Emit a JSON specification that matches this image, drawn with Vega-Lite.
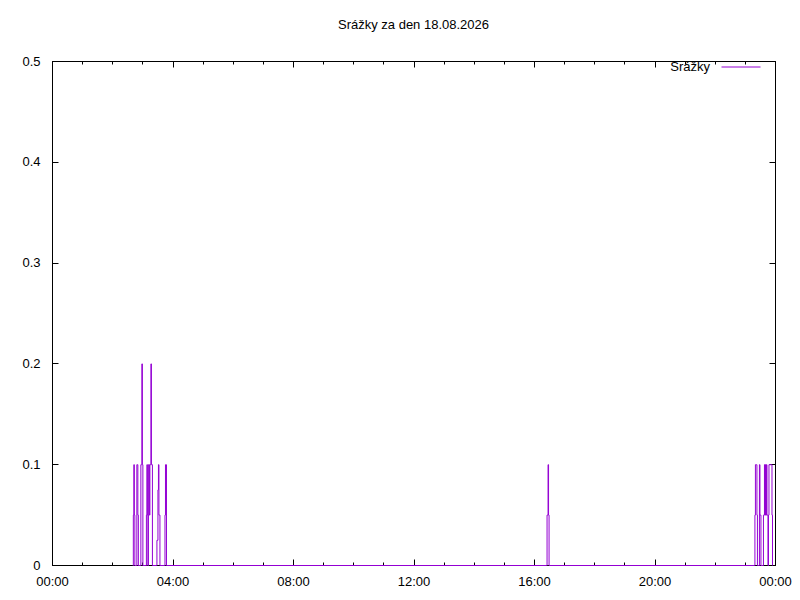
{
  "$schema": "https://vega.github.io/schema/vega-lite/v6.json",
  "width": 723,
  "height": 504,
  "autosize": "none",
  "padding": {"left": 52, "top": 61, "right": 25, "bottom": 35},
  "background": "white",
  "config": {
    "view": {"stroke": "black", "strokeWidth": 1},
    "font": "Liberation Sans",
    "axis": {"labelFont": "Liberation Sans", "labelFontSize": 13, "labelColor": "black", "tickColor": "black", "domainColor": "black", "grid": false, "zindex": 1, "labelFlush": false, "labelOverlap": false},
    "legend": {"labelFont": "Liberation Sans"}
  },
  "title": {"text": "Srážky za den 18.08.2026", "font": "Liberation Sans", "fontSize": 13, "fontWeight": "normal", "color": "black", "offset": 15, "anchor": "middle"},
  "data": {"values": [
    {"t": "2026-08-18T02:41", "v": 0},
    {"t": "2026-08-18T02:42", "v": 0.05},
    {"t": "2026-08-18T02:43", "v": 0.1},
    {"t": "2026-08-18T02:44", "v": 0.05},
    {"t": "2026-08-18T02:45", "v": 0},
    {"t": "2026-08-18T02:48", "v": 0},
    {"t": "2026-08-18T02:49", "v": 0.1},
    {"t": "2026-08-18T02:50", "v": 0.1},
    {"t": "2026-08-18T02:51", "v": 0.05},
    {"t": "2026-08-18T02:52", "v": 0},
    {"t": "2026-08-18T02:56", "v": 0},
    {"t": "2026-08-18T02:57", "v": 0.1},
    {"t": "2026-08-18T02:58", "v": 0.1},
    {"t": "2026-08-18T02:59", "v": 0.2},
    {"t": "2026-08-18T03:00", "v": 0.1},
    {"t": "2026-08-18T03:01", "v": 0},
    {"t": "2026-08-18T03:07", "v": 0},
    {"t": "2026-08-18T03:08", "v": 0.05},
    {"t": "2026-08-18T03:09", "v": 0.1},
    {"t": "2026-08-18T03:10", "v": 0.05},
    {"t": "2026-08-18T03:11", "v": 0},
    {"t": "2026-08-18T03:12", "v": 0.1},
    {"t": "2026-08-18T03:13", "v": 0.1},
    {"t": "2026-08-18T03:14", "v": 0.05},
    {"t": "2026-08-18T03:15", "v": 0.1},
    {"t": "2026-08-18T03:16", "v": 0.1},
    {"t": "2026-08-18T03:17", "v": 0.2},
    {"t": "2026-08-18T03:18", "v": 0.1},
    {"t": "2026-08-18T03:19", "v": 0.1},
    {"t": "2026-08-18T03:20", "v": 0},
    {"t": "2026-08-18T03:28", "v": 0},
    {"t": "2026-08-18T03:29", "v": 0.025},
    {"t": "2026-08-18T03:31", "v": 0.075},
    {"t": "2026-08-18T03:32", "v": 0.1},
    {"t": "2026-08-18T03:33", "v": 0.05},
    {"t": "2026-08-18T03:34", "v": 0.05},
    {"t": "2026-08-18T03:35", "v": 0},
    {"t": "2026-08-18T03:44", "v": 0},
    {"t": "2026-08-18T03:45", "v": 0.05},
    {"t": "2026-08-18T03:46", "v": 0.1},
    {"t": "2026-08-18T03:47", "v": 0.1},
    {"t": "2026-08-18T03:48", "v": 0},
    {"t": "2026-08-18T16:25", "v": 0},
    {"t": "2026-08-18T16:26", "v": 0.05},
    {"t": "2026-08-18T16:27", "v": 0.05},
    {"t": "2026-08-18T16:28", "v": 0.1},
    {"t": "2026-08-18T16:29", "v": 0.05},
    {"t": "2026-08-18T16:30", "v": 0},
    {"t": "2026-08-18T23:19", "v": 0},
    {"t": "2026-08-18T23:20", "v": 0.05},
    {"t": "2026-08-18T23:21", "v": 0.1},
    {"t": "2026-08-18T23:23", "v": 0.1},
    {"t": "2026-08-18T23:24", "v": 0.05},
    {"t": "2026-08-18T23:25", "v": 0},
    {"t": "2026-08-18T23:28", "v": 0},
    {"t": "2026-08-18T23:29", "v": 0.1},
    {"t": "2026-08-18T23:30", "v": 0.05},
    {"t": "2026-08-18T23:31", "v": 0.05},
    {"t": "2026-08-18T23:32", "v": 0},
    {"t": "2026-08-18T23:36", "v": 0},
    {"t": "2026-08-18T23:37", "v": 0.05},
    {"t": "2026-08-18T23:38", "v": 0.05},
    {"t": "2026-08-18T23:39", "v": 0.1},
    {"t": "2026-08-18T23:40", "v": 0.05},
    {"t": "2026-08-18T23:41", "v": 0.1},
    {"t": "2026-08-18T23:42", "v": 0.05},
    {"t": "2026-08-18T23:43", "v": 0.1},
    {"t": "2026-08-18T23:44", "v": 0.05},
    {"t": "2026-08-18T23:45", "v": 0.05},
    {"t": "2026-08-18T23:46", "v": 0},
    {"t": "2026-08-18T23:47", "v": 0.05},
    {"t": "2026-08-18T23:48", "v": 0.1},
    {"t": "2026-08-18T23:53", "v": 0.1},
    {"t": "2026-08-18T23:54", "v": 0.05},
    {"t": "2026-08-18T23:55", "v": 0}
  ]},
  "layer": [
    {
      "mark": {"type": "line", "strokeWidth": 1, "yOffset": 0.5, "interpolate": "step-after"},
      "encoding": {
        "x": {"field": "t", "type": "temporal",
              "scale": {"domain": [{"year": 2026, "month": 8, "date": 18, "hours": 0}, {"year": 2026, "month": 8, "date": 19, "hours": 0}], "nice": false},
              "axis": {"orient": "bottom", "title": null, "tickCount": 24,
                       "labelExpr": "hours(datum.value) % 4 == 0 ? timeFormat(datum.value, '%H:%M') : ''",
                       "tickSize": {"condition": {"test": "hours(datum.value) % 4 == 0", "value": -6}, "value": -3},
                       "labelPadding": 16, "domain": true}},
        "y": {"field": "v", "type": "quantitative",
              "scale": {"domain": [0, 0.5], "nice": false, "zero": true},
              "axis": {"orient": "left", "title": null, "values": [0, 0.1, 0.2, 0.3, 0.4, 0.5], "format": ".1~f", "tickSize": -6, "labelPadding": 18, "domain": true}},
        "color": {"datum": "Srážky", "type": "nominal",
                  "scale": {"range": ["#9400D3"]},
                  "legend": {"title": null, "orient": "none", "legendX": 669, "legendY": -14, "symbolType": "stroke", "symbolSize": 1521, "symbolStrokeWidth": 1, "symbolOpacity": 1, "labelFontSize": 13, "labelColor": "black", "labelAlign": "right", "labelOffset": -51, "padding": 0}}
      }
    },
    {
      "mark": {"type": "line", "strokeOpacity": 0},
      "encoding": {
        "x": {"field": "t", "type": "temporal",
              "axis": {"orient": "top", "title": null, "labels": false, "tickCount": 24,
                       "tickSize": {"condition": {"test": "hours(datum.value) % 4 == 0", "value": -6}, "value": -3},
                       "domain": true}},
        "y": {"field": "v", "type": "quantitative",
              "axis": {"orient": "right", "title": null, "labels": false, "values": [0, 0.1, 0.2, 0.3, 0.4, 0.5], "tickSize": -6, "domain": true}}
      }
    }
  ],
  "resolve": {"axis": {"x": "independent", "y": "independent"}}
}
